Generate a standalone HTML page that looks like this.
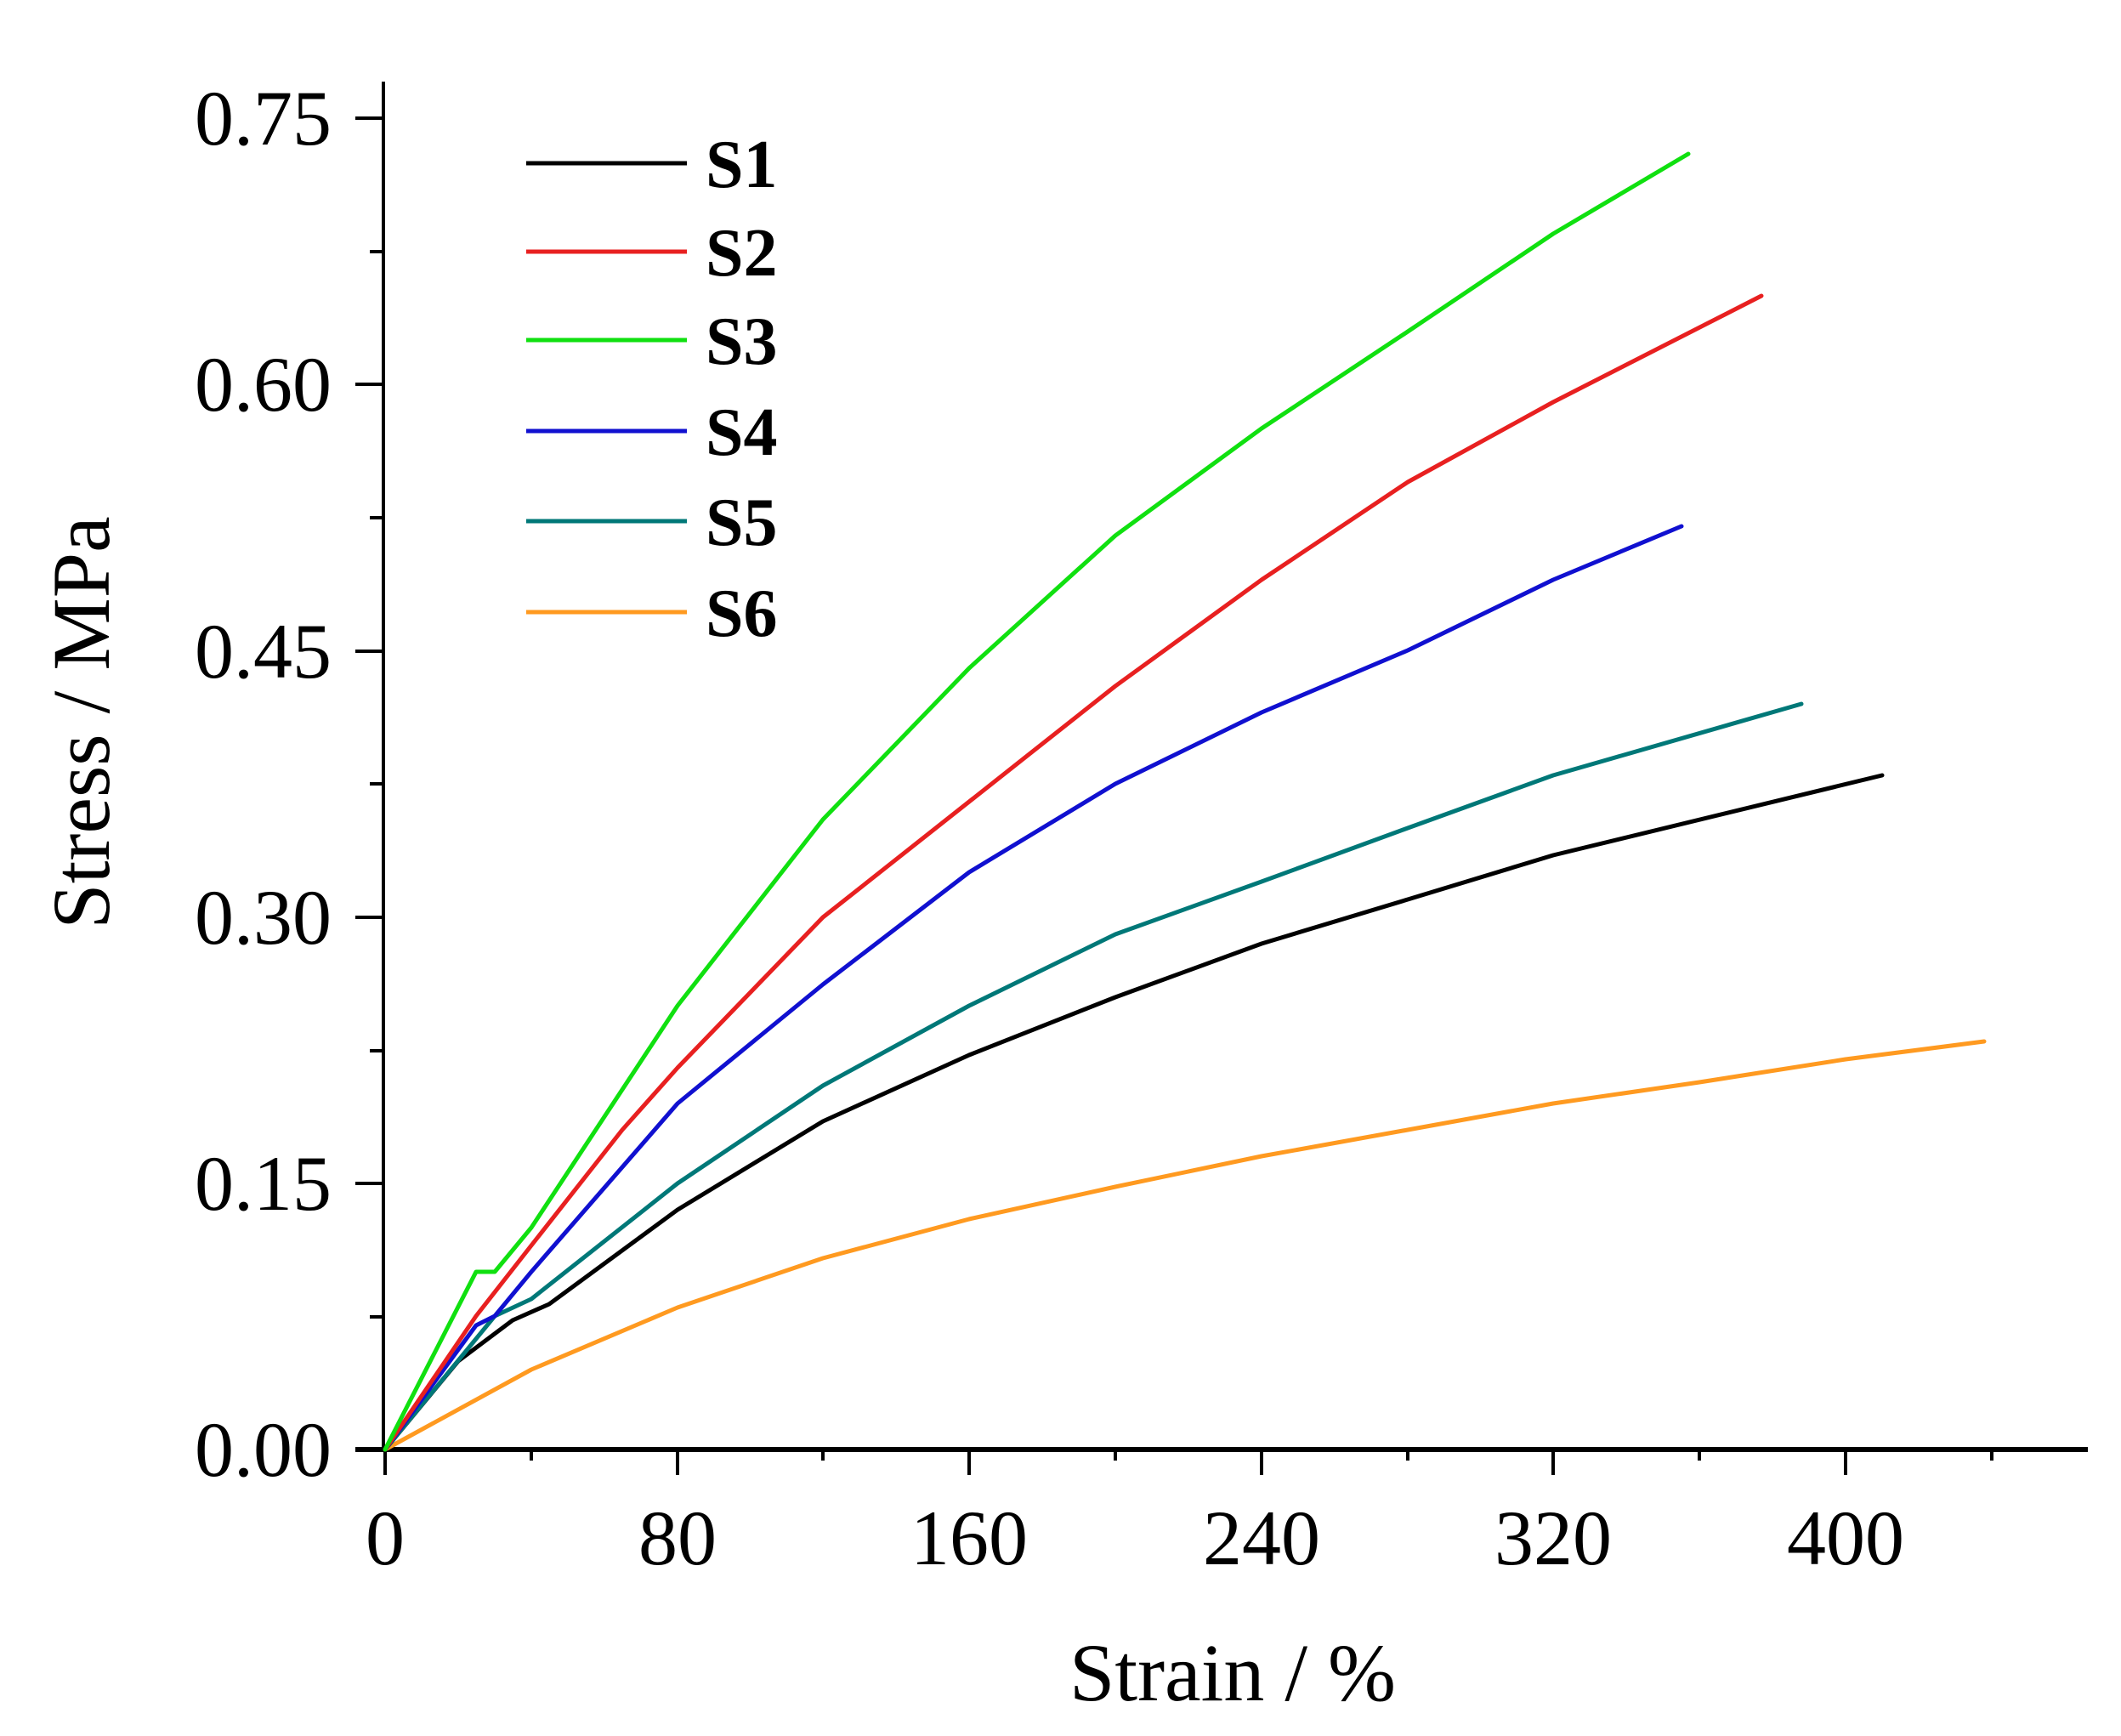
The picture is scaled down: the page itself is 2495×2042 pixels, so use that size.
<!DOCTYPE html>
<html><head><meta charset="utf-8"><style>
html,body{margin:0;padding:0;background:#fff;}
svg{display:block;}
text{font-family:"Liberation Serif",serif;fill:#000;}
</style></head><body>
<svg width="2495" height="2042" viewBox="0 0 2495 2042" xmlns="http://www.w3.org/2000/svg">
<g stroke="#000" fill="none">
<line x1="451" y1="96" x2="451" y2="1708" stroke-width="4"/>
<line x1="418" y1="1705" x2="2456" y2="1705" stroke-width="6"/>
<g stroke-width="4">
<line x1="418" y1="139" x2="451" y2="139"/><line x1="418" y1="452" x2="451" y2="452"/><line x1="418" y1="766" x2="451" y2="766"/><line x1="418" y1="1079" x2="451" y2="1079"/><line x1="418" y1="1392" x2="451" y2="1392"/>
<line x1="435" y1="296" x2="451" y2="296"/><line x1="435" y1="609" x2="451" y2="609"/><line x1="435" y1="922" x2="451" y2="922"/><line x1="435" y1="1236" x2="451" y2="1236"/><line x1="435" y1="1549" x2="451" y2="1549"/>
<line x1="453" y1="1705" x2="453" y2="1735"/><line x1="797" y1="1705" x2="797" y2="1735"/><line x1="1140" y1="1705" x2="1140" y2="1735"/><line x1="1484" y1="1705" x2="1484" y2="1735"/><line x1="1827" y1="1705" x2="1827" y2="1735"/><line x1="2171" y1="1705" x2="2171" y2="1735"/>
<line x1="625" y1="1705" x2="625" y2="1718"/><line x1="968" y1="1705" x2="968" y2="1718"/><line x1="1312" y1="1705" x2="1312" y2="1718"/><line x1="1656" y1="1705" x2="1656" y2="1718"/><line x1="1999" y1="1705" x2="1999" y2="1718"/><line x1="2343" y1="1705" x2="2343" y2="1718"/>
</g>
</g>
<g font-size="92" text-anchor="end">
<text x="390" y="170">0.75</text><text x="390" y="483">0.60</text><text x="390" y="797">0.45</text><text x="390" y="1110">0.30</text><text x="390" y="1423">0.15</text><text x="390" y="1736">0.00</text>
</g>
<g font-size="92" text-anchor="middle">
<text x="453" y="1840">0</text><text x="797" y="1840">80</text><text x="1140" y="1840">160</text><text x="1484" y="1840">240</text><text x="1827" y="1840">320</text><text x="2171" y="1840">400</text>
<text x="1450" y="2000" font-size="96">Strain / %</text>
<text transform="translate(128,850) rotate(-90)" font-size="96">Stress / MPa</text>
</g>
<g fill="none" stroke-width="5" stroke-linejoin="round" stroke-linecap="round">
<polyline stroke="#ff9a20" points="453,1705 625,1611 797,1538 968,1480 1140,1434 1312,1396 1484,1360 1656,1329 1827,1298 1999,1273 2171,1246 2334,1225"/>
<polyline stroke="#000" points="453,1705 539,1601 603,1553 646,1534 797,1423 968,1319 1140,1241 1312,1173 1484,1110 1656,1058 1827,1006 2214,912"/>
<polyline stroke="#007878" points="453,1705 582,1548 625,1528 797,1392 968,1277 1140,1183 1312,1099 1484,1037 1656,974 1827,912 2119,828"/>
<polyline stroke="#1010d0" points="453,1705 560,1559 582,1548 625,1496 797,1298 968,1158 1140,1026 1312,922 1484,838 1656,765 1827,682 1978,619"/>
<polyline stroke="#e82020" points="453,1705 560,1548 625,1465 732,1329 797,1256 968,1079 1140,943 1312,807 1484,682 1656,567 1827,473 2072,348"/>
<polyline stroke="#10e010" points="453,1705 560,1496 582,1496 625,1444 797,1183 968,964 1140,786 1312,630 1484,504 1656,390 1827,275 1986,181"/>
</g>
<g stroke-width="5">
<line x1="619" y1="192" x2="808" y2="192" stroke="#000"/>
<line x1="619" y1="296" x2="808" y2="296" stroke="#e82020"/>
<line x1="619" y1="400" x2="808" y2="400" stroke="#10e010"/>
<line x1="619" y1="507" x2="808" y2="507" stroke="#1010d0"/>
<line x1="619" y1="613" x2="808" y2="613" stroke="#007878"/>
<line x1="619" y1="720" x2="808" y2="720" stroke="#ff9a20"/>
</g>
<g font-size="80" font-weight="bold">
<text x="830" y="220">S1</text><text x="830" y="324">S2</text><text x="830" y="428">S3</text><text x="830" y="535">S4</text><text x="830" y="641">S5</text><text x="830" y="748">S6</text>
</g>
</svg>
</body></html>
